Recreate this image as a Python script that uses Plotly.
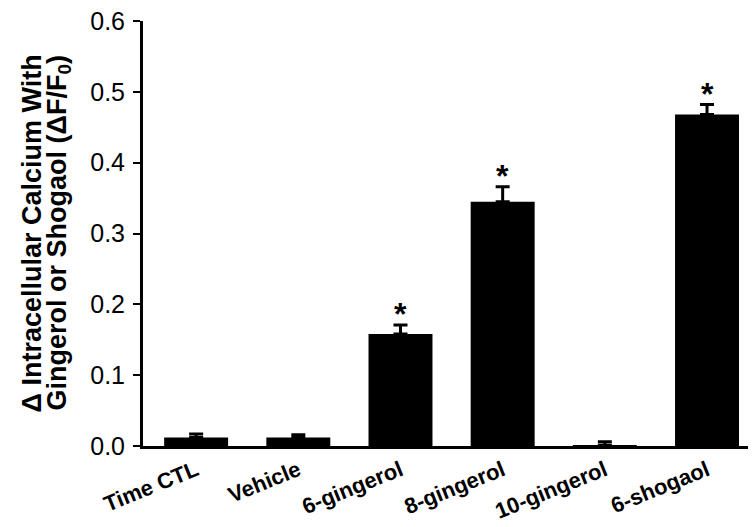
import plotly.graph_objects as go

categories = ["Time CTL", "Vehicle", "6-gingerol", "8-gingerol", "10-gingerol", "6-shogaol"]
values = [0.012, 0.012, 0.158, 0.345, 0.001, 0.468]
errors = [0.005, 0.004, 0.013, 0.021, 0.005, 0.014]
significant = [False, False, True, True, False, True]
y_ticks = [0.0, 0.1, 0.2, 0.3, 0.4, 0.5, 0.6]
y_tick_labels = ["0.0", "0.1", "0.2", "0.3", "0.4", "0.5", "0.6"]
y_title_lines = ["\u0394 Intracellular Calcium With",
                 "Gingerol or Shogaol (\u0394F/F<sub>0</sub>)"]

FONT = "Arial, Liberation Sans, sans-serif"

fig = go.Figure()
fig.add_trace(go.Bar(
    x=categories,
    y=values,
    marker=dict(color="black", line=dict(width=0)),
    error_y=dict(type="data", array=errors, arrayminus=[0] * len(errors),
                 symmetric=False, color="black", thickness=3, width=7),
    showlegend=False,
))

annotations = []
for c, v, e, s in zip(categories, values, errors, significant):
    if s:
        annotations.append(dict(x=c, y=v + e, xref="x", yref="y", text="<b>*</b>",
                                showarrow=False, yanchor="bottom", yshift=-9,
                                font=dict(family=FONT, size=32, color="black")))

for line, shift in zip(y_title_lines, [-112, -85]):
    annotations.append(dict(
        x=0, y=0.5, xref="paper", yref="paper", xanchor="center", yanchor="middle",
        xshift=shift, textangle=-90, showarrow=False,
        text=f"<b>{line}</b>",
        font=dict(family=FONT, size=27, color="black"),
    ))

fig.update_layout(
    width=756, height=527,
    margin=dict(l=135, r=11, t=13, b=89),
    paper_bgcolor="white", plot_bgcolor="white",
    bargap=0.374,
    font=dict(family=FONT, color="black"),
    annotations=annotations,
)
fig.update_xaxes(
    range=[-0.52, 5.45], showline=True, linewidth=3, linecolor="black",
    ticks="", tickangle=-22, showgrid=False, zeroline=False, automargin=False,
    tickfont=dict(family=FONT, size=22, color="black"),
    ticktext=[f"<b>{c}</b>" for c in categories], tickvals=categories,
    ticklabeloverflow="allow",
)
fig.update_yaxes(
    range=[0, 0.6], showline=True, linewidth=3, linecolor="black",
    ticks="outside", ticklen=7, tickwidth=2, tickcolor="black",
    tickvals=y_ticks, ticktext=y_tick_labels, showgrid=False, zeroline=False,
    automargin=False, ticklabelstandoff=3, ticklabeloverflow="allow",
    tickfont=dict(family=FONT, size=25, color="black"),
)

fig.write_html("out.html")
